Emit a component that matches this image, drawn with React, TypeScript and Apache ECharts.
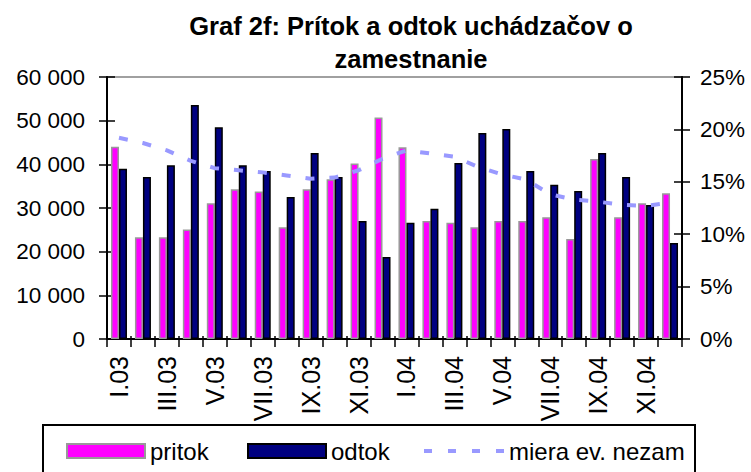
import React, { useEffect, useRef } from "react";
import * as echarts from "echarts";

const months = ["I", "II", "III", "IV", "V", "VI", "VII", "VIII", "IX", "X", "XI", "XII"];
const categories = [...months.map((m) => m + ".03"), ...months.map((m) => m + ".04")];

const pritok = [44000, 23300, 23300, 25100, 31100, 34300, 33800, 25600, 34300, 36600, 40200, 50700,
  43900, 27000, 26600, 25600, 27000, 27000, 27900, 22900, 41200, 27900, 31100, 33400];
const odtok = [39000, 37100, 39800, 53600, 48500, 39800, 38500, 32500, 42600, 37100, 27000, 18800,
  26600, 29800, 40300, 47200, 48100, 38500, 35300, 33900, 42600, 37100, 30700, 22000];
const miera = [19.2, 18.7, 18.0, 17.0, 16.3, 16.1, 15.9, 15.6, 15.3, 15.4, 16.1, 17.2,
  18.0, 17.7, 17.4, 16.4, 15.7, 15.2, 13.8, 13.3, 13.1, 12.8, 12.7, 13.0];

const titleText = "Graf 2f: Prítok a odtok uchádzačov o\nzamestnanie";
const seriesNames = ["pritok", "odtok", "miera ev. nezam"];

const FONT = "'Liberation Sans', Arial, sans-serif";

export default function App() {
  const ref = useRef<HTMLDivElement>(null);
  useEffect(() => {
    if (!ref.current) return;
    const chart = echarts.init(ref.current, null, { renderer: "svg" });
    const fmtThousands = (v: number) => String(v).replace(/\B(?=(\d{3})+(?!\d))/g, " ");
    const legendBase = {
      top: 434,
      itemWidth: 78,
      itemHeight: 14,
      textStyle: { color: "#000", fontSize: 24, fontFamily: FONT },
      selectedMode: false,
    };
    chart.setOption({
      animation: false,
      backgroundColor: "#fff",
      title: {
        text: titleText,
        left: 406,
        top: 4,
        textAlign: "center",
        textStyle: { fontSize: 25.5, fontWeight: "bold", fontFamily: FONT, color: "#000", lineHeight: 33 },
      },
      grid: { left: 107, right: 69, top: 77, bottom: 133, show: true, borderColor: "#a0a0a0", borderWidth: 2 },
      legend: [
        { ...legendBase, left: 61, data: [{ name: seriesNames[0], icon: "rect" }] },
        { ...legendBase, left: 242, data: [{ name: seriesNames[1], icon: "rect" }] },
        {
          ...legendBase,
          left: 417,
          itemWidth: 80,
          itemStyle: { opacity: 0 },
          lineStyle: { color: "#9999ff", width: 4, type: [8, 16] },
          data: [{ name: seriesNames[2] }],
        },
      ],
      xAxis: [
        {
          type: "category",
          data: categories,
          boundaryGap: true,
          axisLine: { lineStyle: { color: "#000", width: 2 } },
          axisTick: { show: true, length: 8, alignWithLabel: false, interval: 0, lineStyle: { color: "#000", width: 1.5 } },
          axisLabel: { interval: 1, rotate: 90, margin: 17, color: "#000", fontSize: 25, fontFamily: FONT },
        },
        {
          type: "category",
          data: categories,
          position: "bottom",
          boundaryGap: true,
          axisLine: { show: false },
          axisTick: { show: true, inside: true, length: 3, interval: 0, lineStyle: { color: "#000", width: 1.5 } },
          axisLabel: { show: false },
        },
      ],
      yAxis: [
        {
          type: "value",
          min: 0,
          max: 60000,
          interval: 10000,
          position: "left",
          axisLine: { show: true, lineStyle: { color: "#000", width: 2 } },
          axisTick: { show: true, length: 8, lineStyle: { color: "#000", width: 1.5 } },
          axisLabel: { margin: 22, color: "#000", fontSize: 22.5, fontFamily: FONT, formatter: fmtThousands },
          splitLine: { show: false },
        },
        {
          type: "value",
          min: 0,
          max: 25,
          interval: 5,
          position: "right",
          axisLine: { show: true, lineStyle: { color: "#000", width: 2 } },
          axisTick: { show: true, length: 8, lineStyle: { color: "#000", width: 1.5 } },
          axisLabel: { margin: 18, color: "#000", fontSize: 22.5, fontFamily: FONT, formatter: "{value}%" },
          splitLine: { show: false },
        },
        {
          type: "value",
          min: 0,
          max: 60000,
          interval: 10000,
          position: "left",
          axisLine: { show: false },
          axisTick: { show: true, inside: true, length: 8, lineStyle: { color: "#000", width: 1.5 } },
          axisLabel: { show: false },
          splitLine: { show: false },
        },
        {
          type: "value",
          min: 0,
          max: 25,
          interval: 5,
          position: "right",
          axisLine: { show: false },
          axisTick: { show: true, inside: true, length: 8, lineStyle: { color: "#000", width: 1.5 } },
          axisLabel: { show: false },
          splitLine: { show: false },
        },
      ],
      series: [
        {
          name: seriesNames[0],
          type: "bar",
          data: pritok,
          barWidth: 8,
          barGap: "0%",
          itemStyle: { color: "#ff00ff", borderColor: "#999999", borderWidth: 1.5 },
        },
        {
          name: seriesNames[1],
          type: "bar",
          data: odtok,
          barWidth: 8,
          barGap: "0%",
          itemStyle: { color: "#000080", borderColor: "#000", borderWidth: 1.5 },
        },
        {
          name: seriesNames[2],
          type: "line",
          yAxisIndex: 1,
          data: miera,
          symbol: "none",
          smooth: false,
          z: 5,
          itemStyle: { color: "#9999ff" },
          lineStyle: { color: "#9999ff", width: 4, type: [9, 15] },
        },
      ],
      graphic: [
        {
          type: "rect",
          shape: { x: 43, y: 425, width: 652, height: 70 },
          style: { fill: "none", stroke: "#000", lineWidth: 2 },
          z: 0,
        },
      ],
    });
    return () => chart.dispose();
  }, []);
  return <div ref={ref} style={{ position: "fixed", left: 0, top: 0, width: 751, height: 472 }} />;
}
